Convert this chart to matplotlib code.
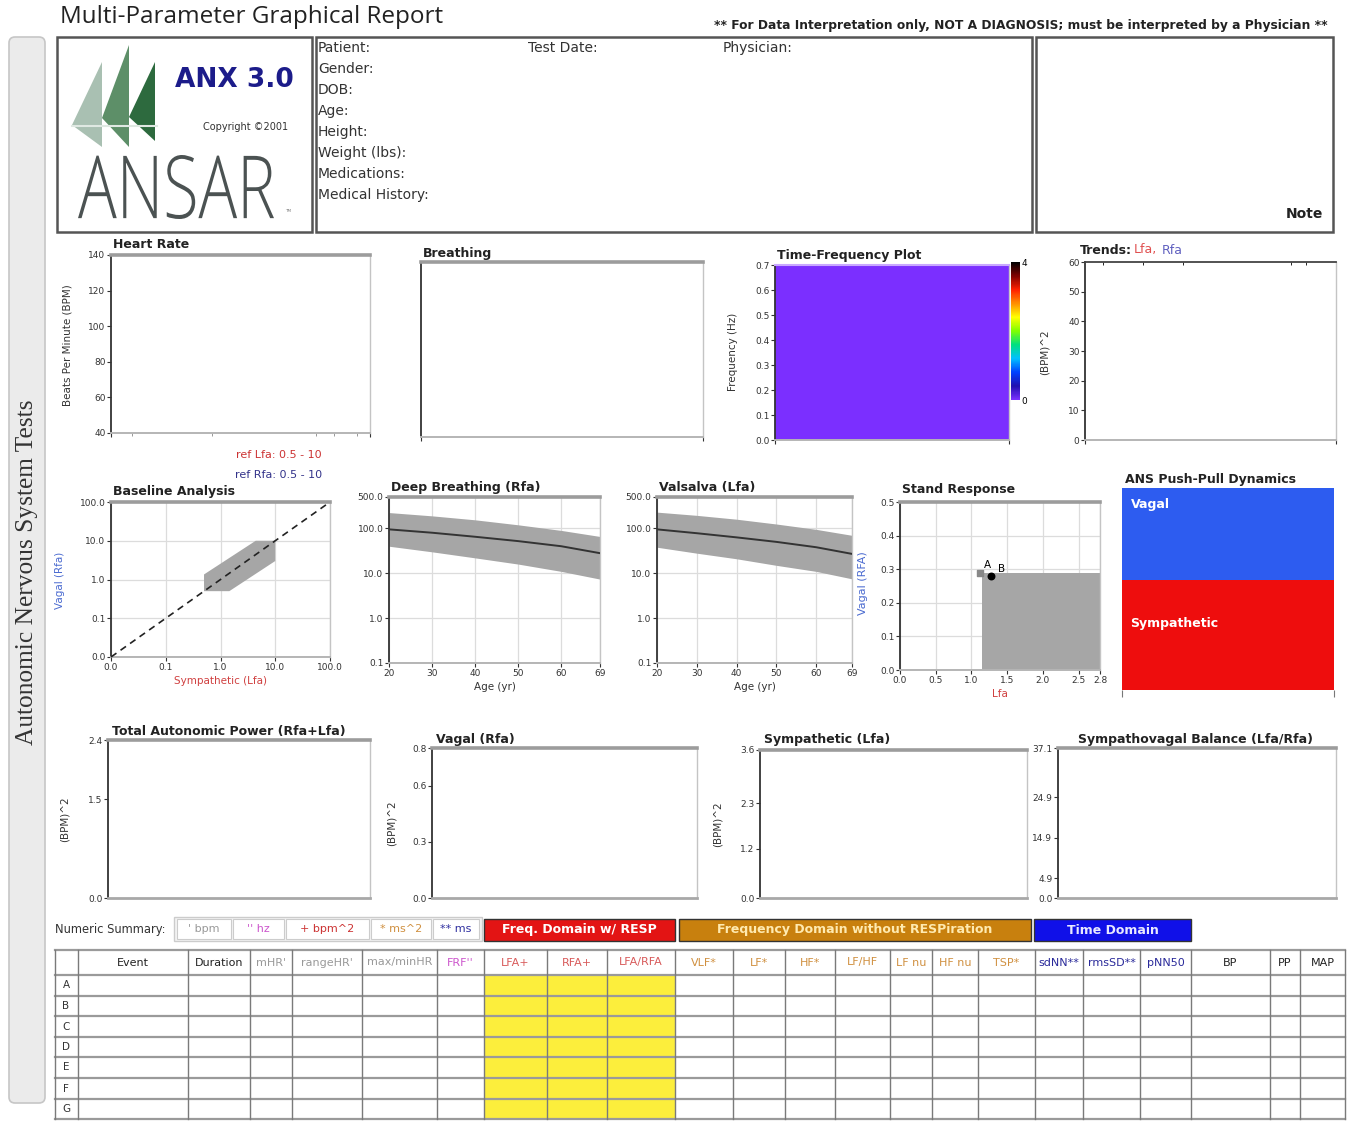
import matplotlib
matplotlib.use("Agg")
import matplotlib.pyplot as plt
from matplotlib.patches import Rectangle, Polygon, FancyBboxPatch, PathPatch
from matplotlib.colors import LinearSegmentedColormap
from matplotlib.textpath import TextPath
from matplotlib.font_manager import FontProperties
from matplotlib.transforms import Affine2D

W, H = 1348, 1121

# ---------------- values ----------------
patient_fields = ["Patient:", "Gender:", "DOB:", "Age:", "Height:",
                  "Weight (lbs):", "Medications:", "Medical History:"]

hr_ticks = [40, 60, 80, 100, 120, 140]
hr_marks = [0.08, 0.39, 0.79, 0.86, 0.95]        # event marks on time axis
tf_ticks = [0.0, 0.1, 0.2, 0.3, 0.4, 0.5, 0.6, 0.7]
tf_power = [[0, 0, 0, 0], [0, 0, 0, 0], [0, 0, 0, 0]]
trend_ticks = [0, 10, 20, 30, 40, 50, 60]
trend_marks = [0.07, 0.23, 0.39, 0.82, 0.88]

base_ticks = [0.01, 0.1, 1, 10, 100]
base_labels = ["0.0", "0.1", "1.0", "10.0", "100.0"]
base_ref_lfa = [0.5, 1.45, 10, 10, 4.4, 0.5]
base_ref_rfa = [0.5, 0.5, 3.0, 10, 10, 1.35]

ages = [20, 30, 40, 50, 60, 69]
db_mid = [95, 80, 65, 52, 40, 28]
db_hi = [225, 190, 155, 120, 90, 66]
db_lo = [40, 30, 22, 16, 11, 7.4]
vs_mid = [95, 78, 63, 50, 38, 27]
vs_hi = [230, 195, 160, 125, 95, 70]
vs_lo = [38, 28, 21, 15, 11, 7.5]
log_ticks = [0.1, 1, 10, 100, 500]
log_labels = ["0.1", "1.0", "10.0", "100.0", "500.0"]

stand_names = ["A", "B"]
stand_lfa = [1.12, 1.27]
stand_rfa = [0.29, 0.28]
stand_ref_lfa = [1.15, 2.8]
stand_ref_rfa = [0.0, 0.29]
stand_xticks = [0.0, 0.5, 1.0, 1.5, 2.0, 2.5, 2.8]
stand_yticks = [0.0, 0.1, 0.2, 0.3, 0.4, 0.5]

pp_names = ["Sympathetic", "Vagal"]
pp_share = [0.545, 0.455]

tap_ticks = [0.0, 1.5, 2.4]
vagal_ticks = [0.0, 0.3, 0.6, 0.8]
symp_ticks = [0.0, 1.2, 2.3, 3.6]
svb_ticks = [0.0, 4.9, 14.9, 24.9, 37.1]

unit_keys = ["' bpm", "'' hz", "+ bpm^2", "* ms^2", "** ms"]
unit_colors = ["#999999", "#cc55cc", "#cc3333", "#d09040", "#3030a0"]

table_cols = ["", "Event", "Duration", "mHR'", "rangeHR'", "max/minHR", "FRF''",
              "LFA+", "RFA+", "LFA/RFA", "VLF*", "LF*", "HF*", "LF/HF", "LF nu",
              "HF nu", "TSP*", "sdNN**", "rmsSD**", "pNN50", "BP", "PP", "MAP"]
table_col_colors = ["k", "#222222", "#222222", "#999999", "#999999", "#999999", "#cc55cc",
                    "#d85a5a", "#d85a5a", "#d85a5a", "#d09040", "#d09040", "#d09040",
                    "#d09040", "#d09040", "#d09040", "#d09040", "#2a2a9a", "#2a2a9a",
                    "#2a2a9a", "#222222", "#222222", "#222222"]
row_labels = ["A", "B", "C", "D", "E", "F", "G"]
yellow_cols = ["LFA+", "RFA+", "LFA/RFA"]

# ---------------- layout helpers ----------------
fig = plt.figure(figsize=(W / 100, H / 100), dpi=100)
fig.patch.set_facecolor("white")

bg = fig.add_axes([0, 0, 1, 1])
bg.set_xlim(0, W)
bg.set_ylim(H, 0)
bg.axis("off")

TITLE_FS = 9.0
TICK_FS = 6.5
LAB_FS = 7.5


def frac(x0, y0, x1, y1):
    return [x0 / W, 1 - y1 / H, (x1 - x0) / W, (y1 - y0) / H]


def panel(x0, y0, x1, y1, title=None, tx=None, ty=None):
    ax = fig.add_axes(frac(x0, y0, x1, y1))
    ax.spines["left"].set(color="#333333", lw=1.3)
    ax.spines["top"].set(color="#9c9c9c", lw=2.6)
    ax.spines["bottom"].set(color="#b5b5b5", lw=1.4)
    ax.spines["right"].set(color="#c4c4c4", lw=1.0)
    ax.tick_params(labelsize=TICK_FS, colors="#333333", length=3, width=0.8, pad=1)
    if title:
        bg.text(x0 + 2 if tx is None else tx, y0 - 9 if ty is None else ty, title,
                fontsize=TITLE_FS, fontweight="bold", va="center", ha="left", color="#222222")
    return ax


def ylab(x, y, s, color="#333333", size=LAB_FS):
    bg.text(x, y, s, rotation=90, fontsize=size, color=color, ha="center", va="center")


# ---------------- header ----------------
bg.text(60, 17, "Multi-Parameter Graphical Report", fontsize=17.5, color="#222222",
        va="center", family="Open Sans")
bg.text(1328, 25, "** For Data Interpretation only, NOT A DIAGNOSIS; must be interpreted by a Physician **",
        fontsize=8.8, fontweight="bold", ha="right", va="center", color="#222222")

# side bar
bg.add_patch(FancyBboxPatch((9, 37), 36, 1066, boxstyle="round,pad=0,rounding_size=6",
                            fc="#ebebeb", ec="#c6c6c6", lw=1.2))
bg.text(27, 572, "Autonomic Nervous System Tests", rotation=90, fontsize=18.3,
        family="Liberation Serif", color="#333333", ha="center", va="center")

# boxes
for x0, x1 in [(57, 312), (316, 1032), (1036, 1333)]:
    bg.add_patch(Rectangle((x0, 37), x1 - x0, 195, fc="white", ec="#555555", lw=1.8))

# logo
sails = [([102, 102, 72], [62, 147, 125], "#a9c0b2"),
         ([129, 129, 102], [45, 147, 118], "#5d8f68"),
         ([155, 155, 129], [62, 141, 117], "#2d6a3e")]
for xs, ys, c in sails:
    bg.add_patch(Polygon(list(zip(xs, ys)), closed=True, fc=c, ec="none"))
bg.plot([72, 157], [126, 126], color="#dfe8e2", lw=1.5)
bg.text(234, 80, "ANX 3.0", fontsize=19, fontweight="bold", color="#1c1c8a",
        ha="center", va="center")
bg.text(246, 127, "Copyright \u00a92001", fontsize=7, color="#333333", ha="center", va="center")
tp = TextPath((0, 0), "ANSAR", size=100,
              prop=FontProperties(family=["Open Sans", "DejaVu Sans"], weight=300))
bb = tp.get_extents()
tr = (Affine2D().translate(-bb.x0, -bb.y0).scale(196 / bb.width, -64 / bb.height)
      .translate(78, 219) + bg.transData)
bg.add_patch(PathPatch(tp, transform=tr, fc="#4b5252", ec="none"))
bg.text(288, 211, "TM", fontsize=3, color="#777777", ha="center", va="center")

for i, f in enumerate(patient_fields):
    bg.text(318, 48 + i * 21, f, fontsize=10, color="#333333", va="center")
bg.text(528, 48, "Test Date:", fontsize=10, color="#333333", va="center")
bg.text(723, 48, "Physician:", fontsize=10, color="#333333", va="center")
bg.text(1323, 214, "Note", fontsize=10, fontweight="bold", color="#222222",
        ha="right", va="center")

# ---------------- row 1 ----------------
ax = panel(111, 255, 370, 433, "Heart Rate", ty=245)
ax.set_xlim(0, 1)
ax.set_ylim(40, 140)
ax.set_yticks(hr_ticks)
ax.set_xticks([0, 1])
ax.set_xticks(hr_marks, minor=True)
ax.set_xticklabels([])
ax.tick_params(axis="x", which="minor", length=2, color="#888888")
ylab(68, 345, "Beats Per Minute (BPM)")

ax = panel(421, 262, 703, 437, "Breathing", ty=253)
ax.set_xlim(0, 1)
ax.set_ylim(0, 1)
ax.set_xticks([0, 1])
ax.set_xticklabels([])
ax.set_yticks([])

ax = panel(775, 265, 1009, 440, "Time-Frequency Plot", ty=255)
cmap = LinearSegmentedColormap.from_list(
    "tf", ["#7b2fff", "#2010b0", "#0040ff", "#00c0ff", "#00e080", "#80ff00",
           "#ffff00", "#ff9000", "#ff2000", "#800000", "#000000"])
im = ax.imshow(tf_power, cmap=cmap, vmin=0, vmax=4, extent=[0, 1, 0, 0.7],
               aspect="auto", origin="lower")
ax.set_xlim(0, 1)
ax.set_ylim(0, 0.7)
ax.set_yticks(tf_ticks)
ax.set_yticklabels([f"{t:.1f}" for t in tf_ticks])
ax.set_xticks([0, 1])
ax.set_xticklabels([])
ax.spines["top"].set(color="#c9a8ff", lw=1.5)
ylab(733, 352, "Frequency (Hz)")
cax = fig.add_axes(frac(1011, 262, 1020, 400))
cb = fig.colorbar(im, cax=cax, ticks=[0, 4])
cb.outline.set_visible(False)
cax.tick_params(labelsize=TICK_FS, length=0, pad=1)

ax = panel(1085, 262, 1336, 440)
bg.text(1080, 250, "Trends:", fontsize=TITLE_FS, fontweight="bold", va="center", color="#222222")
bg.text(1134, 250, "Lfa,", fontsize=TITLE_FS, va="center", color="#e05050")
bg.text(1162, 250, "Rfa", fontsize=TITLE_FS, va="center", color="#6060c0")
ax.set_xlim(0, 1)
ax.set_ylim(0, 60)
ax.set_yticks(trend_ticks)
ax.set_xticks([0, 1])
ax.set_xticklabels([])
ax.spines["top"].set(color="#444444", lw=1.3)
ax.set_xticks(trend_marks, minor=True)
ax.tick_params(axis="x", which="minor", bottom=False, top=True, direction="in", length=2)
ylab(1045, 352, "(BPM)^2")

# ---------------- row 2 ----------------
bg.text(322, 455, "ref Lfa: 0.5 - 10", fontsize=8, color="#cc3333", ha="right", va="center")
bg.text(322, 475, "ref Rfa: 0.5 - 10", fontsize=8, color="#33338a", ha="right", va="center")

ax = panel(111, 502, 330, 657, "Baseline Analysis", ty=491)
ax.set_xscale("log")
ax.set_yscale("log")
ax.set_xlim(0.01, 100)
ax.set_ylim(0.01, 100)
ax.set_xticks(base_ticks)
ax.set_xticklabels(base_labels)
ax.set_yticks(base_ticks)
ax.set_yticklabels(base_labels)
ax.minorticks_off()
ax.grid(True, color="#dcdcdc", lw=0.9)
ax.add_patch(Polygon(list(zip(base_ref_lfa, base_ref_rfa)), closed=True,
                     fc="#a6a6a6", ec="none", zorder=2))
ax.plot([0.01, 100], [0.01, 100], ls=(0, (4, 3)), color="#222222", lw=1.2,
        zorder=3, clip_on=False)
ax.set_xlabel("Sympathetic (Lfa)", fontsize=LAB_FS, color="#d04040", labelpad=3)
ylab(60, 580, "Vagal (Rfa)", color="#4a6ad0")

for (x0, x1, title, mid, hi, lo) in [(389, 600, "Deep Breathing (Rfa)", db_mid, db_hi, db_lo),
                                     (657, 852, "Valsalva (Lfa)", vs_mid, vs_hi, vs_lo)]:
    ax = panel(x0, 497, x1, 663, title, ty=487)
    ax.set_yscale("log")
    ax.set_xlim(20, 69)
    ax.set_ylim(0.1, 500)
    ax.set_xticks(ages)
    ax.set_yticks(log_ticks)
    ax.set_yticklabels(log_labels)
    ax.minorticks_off()
    ax.grid(True, color="#dcdcdc", lw=0.9)
    ax.fill_between(ages, lo, hi, color="#a6a6a6", lw=0, zorder=2)
    ax.plot(ages, mid, color="#333333", lw=1.4, zorder=3)
    ax.set_xlabel("Age (yr)", fontsize=LAB_FS, color="#333333", labelpad=3)

ax = panel(900, 502, 1100, 670, "Stand Response", ty=490)
ax.set_xlim(0, 2.8)
ax.set_ylim(0, 0.5)
ax.set_xticks(stand_xticks)
ax.set_xticklabels([f"{t:.1f}" for t in stand_xticks])
ax.set_yticks(stand_yticks)
ax.set_yticklabels([f"{t:.1f}" for t in stand_yticks])
ax.grid(True, color="#dcdcdc", lw=0.9)
ax.add_patch(Rectangle((stand_ref_lfa[0], stand_ref_rfa[0]),
                       stand_ref_lfa[1] - stand_ref_lfa[0],
                       stand_ref_rfa[1] - stand_ref_rfa[0],
                       fc="#a6a6a6", ec="none", zorder=2))
ax.scatter(stand_lfa[:1], stand_rfa[:1], s=14, marker="s", color="#888888", zorder=4)
ax.scatter(stand_lfa[1:], stand_rfa[1:], s=22, color="black", zorder=4)
ax.annotate(stand_names[0], (stand_lfa[0], stand_rfa[0]), xytext=(3, 3),
            textcoords="offset points", fontsize=7.5, zorder=5)
ax.annotate(stand_names[1], (stand_lfa[1], stand_rfa[1]), xytext=(5, 3),
            textcoords="offset points", fontsize=7.5, zorder=5)
ax.set_xlabel("Lfa", fontsize=LAB_FS, color="#d04040", labelpad=3)
ylab(863, 583, "Vagal (RFA)", color="#4a6ad0", size=8)

ax = panel(1122, 488, 1334, 690, "ANS Push-Pull Dynamics", tx=1125, ty=480)
ax.bar([0], [pp_share[0]], width=1, color="#ee0d0d")
ax.bar([0], [pp_share[1]], width=1, bottom=[pp_share[0]], color="#2d5cf0")
ax.set_xlim(-0.5, 0.5)
ax.set_ylim(0, 1)
ax.set_yticks([])
ax.set_xticks([-0.5, 0.5])
ax.set_xticklabels([])
ax.tick_params(axis="x", length=5, color="#777777")
for s in ax.spines.values():
    s.set_visible(False)
ax.text(0.04, 0.92, pp_names[1], transform=ax.transAxes, color="white",
        fontsize=TITLE_FS, fontweight="bold", va="center")
ax.text(0.04, 0.33, pp_names[0], transform=ax.transAxes, color="white",
        fontsize=TITLE_FS, fontweight="bold", va="center")

# ---------------- row 3 ----------------
bottom_panels = [
    (108, 740, 370, "Total Autonomic Power (Rfa+Lfa)", tap_ticks, 65, 731),
    (432, 748, 697, "Vagal (Rfa)", vagal_ticks, 392, 739),
    (760, 750, 1027, "Sympathetic (Lfa)", symp_ticks, 718, 740),
    (1058, 748, 1336, "Sympathovagal Balance (Lfa/Rfa)", svb_ticks, None, 740),
]
for x0, y0, x1, title, ticks, lx, ty in bottom_panels:
    ax = panel(x0, y0, x1, 898, title, tx=x0 + 4 if x0 != 1058 else 1078, ty=ty)
    ax.set_xlim(0, 1)
    ax.set_ylim(ticks[0], ticks[-1])
    ax.set_yticks(ticks)
    ax.set_yticklabels([f"{t:.1f}" for t in ticks])
    ax.set_xticks([])
    ax.spines["bottom"].set(color="#a8a8a8", lw=2.0)
    if lx is not None:
        ylab(lx, (y0 + 898) / 2, "(BPM)^2")

# ---------------- numeric summary ----------------
bg.text(55, 929, "Numeric Summary:", fontsize=8.3, color="#333333", va="center")
bg.add_patch(Rectangle((174, 917), 308, 24, fc="#f4f4f4", ec="#cccccc", lw=1))
ux = [176, 232, 285, 370, 432, 480]
for i, (k, c) in enumerate(zip(unit_keys, unit_colors)):
    bg.add_patch(Rectangle((ux[i] + 1, 919), ux[i + 1] - ux[i] - 2, 20, fc="white",
                           ec="#cccccc", lw=0.8))
    bg.text((ux[i] + ux[i + 1]) / 2, 929.5, k, fontsize=8, color=c, ha="center", va="center")

headers = [(484, 675, "Freq. Domain w/ RESP", "#e31414", "white"),
           (679, 1031, "Frequency Domain without RESPiration", "#c8800e", "#ffeab0"),
           (1034, 1191, "Time Domain", "#1010e8", "#e8e8ff")]
for x0, x1, s, fc, tc in headers:
    bg.add_patch(Rectangle((x0, 919), x1 - x0, 22, fc=fc, ec="#333333", lw=1))
    bg.text((x0 + x1) / 2, 930, s, fontsize=9, fontweight="bold", color=tc,
            ha="center", va="center")

# ---------------- table ----------------
col_x = [55, 78, 188, 250, 292, 362, 437, 484, 547, 607, 675, 733, 785, 835,
         890, 932, 978, 1035, 1083, 1140, 1191, 1270, 1300, 1345]
row_y = [950, 975, 996, 1016, 1037, 1057, 1078, 1099, 1119]
for j, name in enumerate(table_cols):
    if name in yellow_cols:
        bg.add_patch(Rectangle((col_x[j], row_y[1]), col_x[j + 1] - col_x[j],
                               row_y[-1] - row_y[1], fc="#fcee3c", ec="none"))
for y in row_y:
    bg.plot([55, 1345], [y, y], color="#9a9a9a", lw=1.6)
for x in col_x:
    bg.plot([x, x], [row_y[0], row_y[-1]], color="#7a7a7a", lw=1.0)
for j, name in enumerate(table_cols):
    bg.text((col_x[j] + col_x[j + 1]) / 2, (row_y[0] + row_y[1]) / 2, name,
            fontsize=8, color=table_col_colors[j], ha="center", va="center")
for i, r in enumerate(row_labels):
    bg.text(66, (row_y[i + 1] + row_y[i + 2]) / 2, r, fontsize=7.5, color="#333333",
            ha="center", va="center")

fig.savefig("out.png", dpi=100)
